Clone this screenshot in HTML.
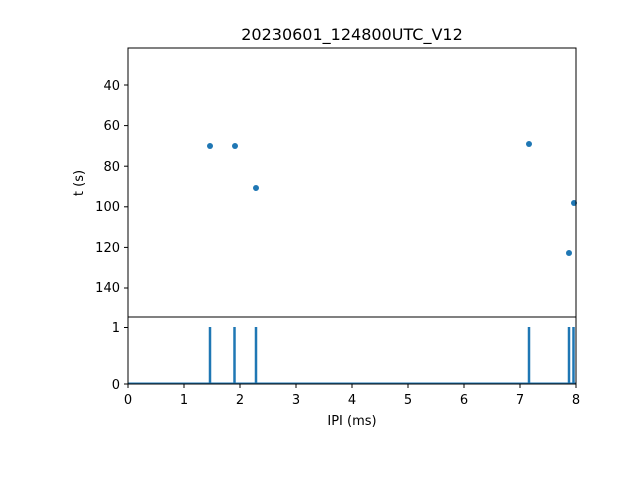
<!DOCTYPE html>
<html><head><style>body{margin:0;background:#fff}svg{display:block}text{font-family:"DejaVu Sans","Liberation Sans",sans-serif;font-size:13px;fill:#000}</style></head>
<body><svg width="640" height="480" xmlns="http://www.w3.org/2000/svg">
<rect width="640" height="480" fill="#fff"/>
<text x="352" y="40" text-anchor="middle" style="font-size:16px">20230601_124800UTC_V12</text>
<g fill="#1f77b4">
<circle cx="210" cy="146" r="3"/><circle cx="235" cy="146" r="3"/><circle cx="256" cy="188" r="3"/>
<circle cx="529" cy="144" r="3"/><circle cx="569" cy="253" r="3"/><circle cx="574" cy="203" r="3"/>
</g>
<rect x="128" y="48" width="448" height="269" fill="none" stroke="#000" stroke-width="1"/>
<g stroke="#000"><line x1="124" x2="128" y1="85" y2="85"/><line x1="124" x2="128" y1="125.6" y2="125.6"/><line x1="124" x2="128" y1="166.2" y2="166.2"/><line x1="124" x2="128" y1="206.8" y2="206.8"/><line x1="124" x2="128" y1="247.4" y2="247.4"/><line x1="124" x2="128" y1="288" y2="288"/></g>
<g text-anchor="end"><text x="120" y="90">40</text><text x="120" y="130">60</text><text x="120" y="171">80</text><text x="120" y="211">100</text><text x="120" y="252">120</text><text x="120" y="292">140</text></g>
<text transform="translate(83,183) rotate(-90)" text-anchor="middle">t (s)</text>
<g stroke="#1f77b4" stroke-width="2.5" fill="none">
<polyline points="128,383.5 576,383.5" stroke-width="2"/>
<line x1="210" x2="210" y1="384" y2="327"/><line x1="234.5" x2="234.5" y1="384" y2="327"/><line x1="256" x2="256" y1="384" y2="327"/><line x1="529" x2="529" y1="384" y2="327"/><line x1="569" x2="569" y1="384" y2="327"/><line x1="573.5" x2="573.5" y1="384" y2="327"/>
</g>
<rect x="128" y="317" width="448" height="67" fill="none" stroke="#000" stroke-width="1"/>
<g stroke="#000"><line x1="124" x2="128" y1="327.5" y2="327.5"/><line x1="124" x2="128" y1="384" y2="384"/></g>
<text x="120" y="332" text-anchor="end">1</text><text x="120" y="389" text-anchor="end">0</text>
<g stroke="#000"><line x1="128" x2="128" y1="384" y2="388"/><line x1="184" x2="184" y1="384" y2="388"/><line x1="240" x2="240" y1="384" y2="388"/><line x1="296" x2="296" y1="384" y2="388"/><line x1="352" x2="352" y1="384" y2="388"/><line x1="408" x2="408" y1="384" y2="388"/><line x1="464" x2="464" y1="384" y2="388"/><line x1="520" x2="520" y1="384" y2="388"/><line x1="576" x2="576" y1="384" y2="388"/></g>
<g text-anchor="middle"><text x="128" y="404">0</text><text x="184" y="404">1</text><text x="240" y="404">2</text><text x="296" y="404">3</text><text x="352" y="404">4</text><text x="408" y="404">5</text><text x="464" y="404">6</text><text x="520" y="404">7</text><text x="576" y="404">8</text></g>
<text x="352" y="425" text-anchor="middle">IPI (ms)</text>
</svg></body></html>
